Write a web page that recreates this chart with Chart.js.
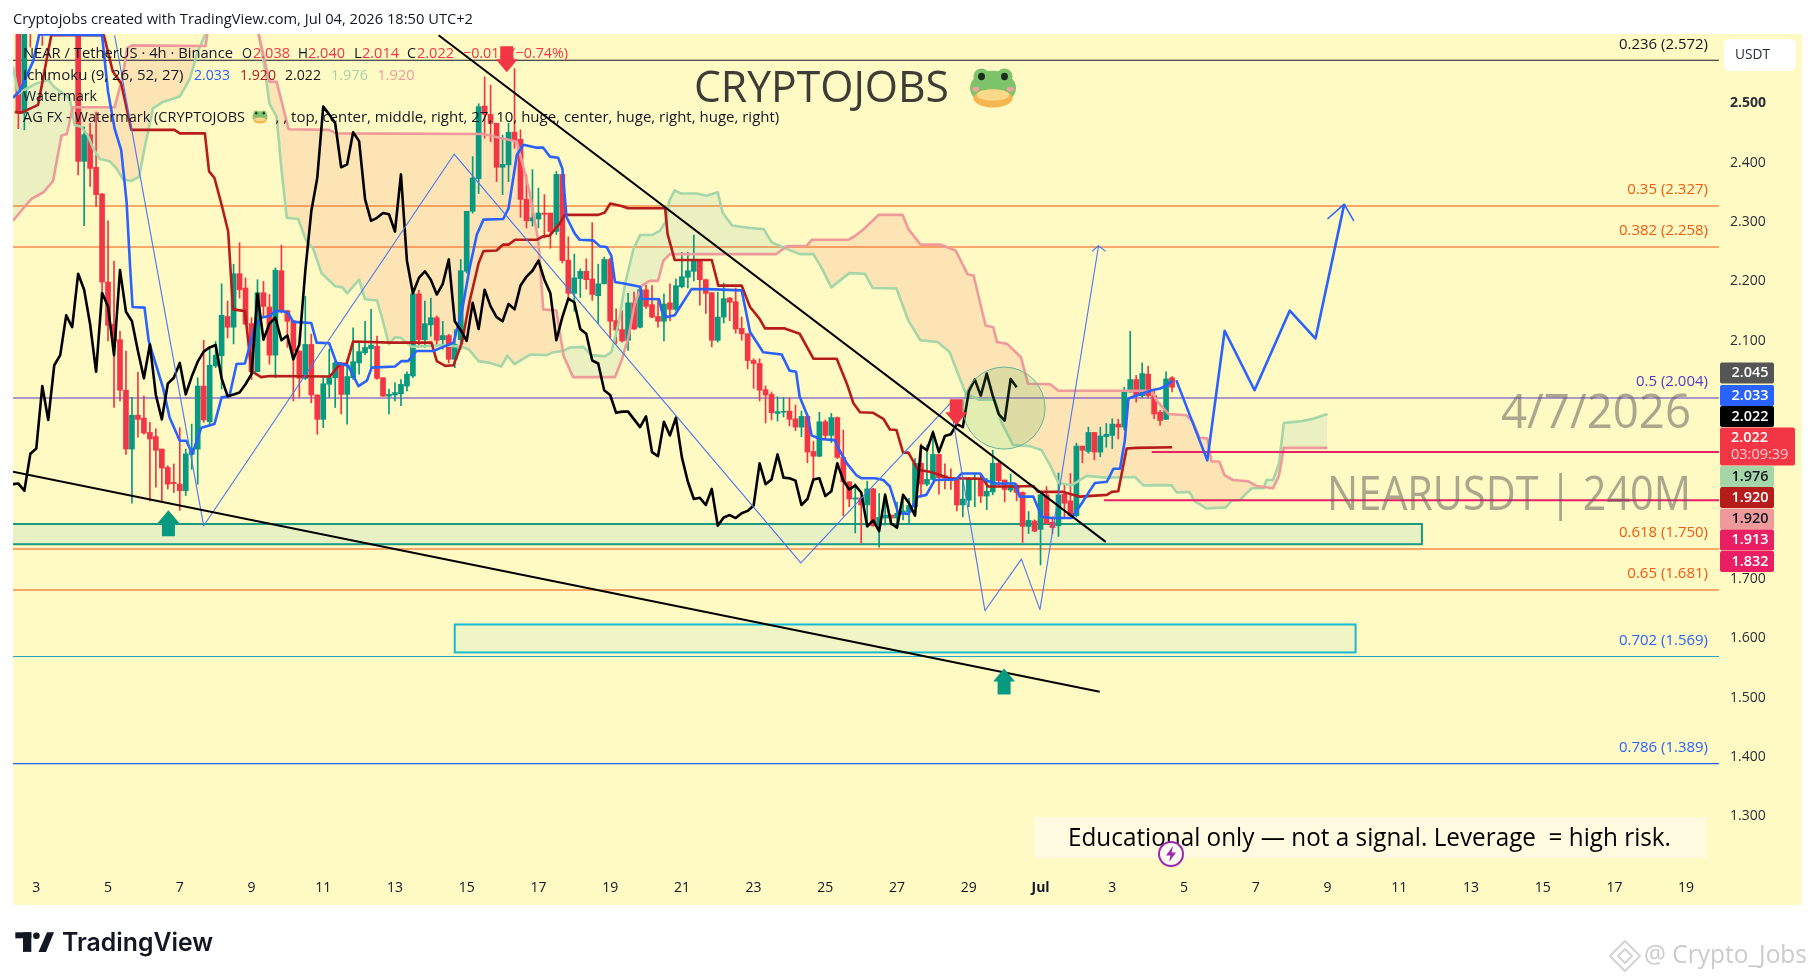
<!DOCTYPE html>
<html><head><meta charset="utf-8">
<style>html,body{margin:0;padding:0;background:#fff}canvas{display:block}</style>
<script src="https://cdn.jsdelivr.net/npm/chart.js@4/dist/chart.umd.min.js"></script>
</head><body><canvas id="c" width="1814" height="980"></canvas>
<script>
const UI='"Open Sans", Lato, sans-serif';
const firstBar=-3;
const opens=[2.72,2.483,2.68,null,2.69,null,null,null,null,null,
2.66,2.402,2.447,2.392,2.347,2.199,2.128,2.102,2.017,1.918,
1.975,1.970,1.946,1.939,1.918,1.887,1.862,1.859,1.848,1.909,
1.918,2.024,1.964,2.058,2.075,2.141,2.123,2.213,2.189,2.129,
2.048,2.181,2.157,2.076,2.218,2.151,2.134,2.083,2.037,2.094,
2.009,1.968,2.027,2.038,2.063,2.010,2.038,2.063,2.080,2.087,
2.091,2.038,2.007,2.009,2.011,2.024,2.041,2.179,2.102,2.127,
2.139,2.102,2.109,2.069,2.102,2.217,2.318,2.373,2.495,2.481,
2.466,2.392,2.396,2.451,2.439,2.338,2.302,2.305,2.315,2.315,
2.284,2.380,2.236,2.180,2.205,2.217,2.204,2.176,2.196,2.237,
2.134,2.119,2.101,2.164,2.123,2.186,2.161,2.141,2.133,2.164,
2.153,2.191,2.207,2.217,2.235,2.203,2.181,2.101,2.140,2.172,
2.166,2.121,2.112,2.067,2.062,2.018,2.010,1.978,1.980,1.982,
1.969,1.955,1.973,1.914,1.906,1.964,1.941,1.971,1.904,1.863,
1.834,1.836,1.824,1.851,1.790,1.802,1.807,1.802,1.809,1.812,
1.821,1.894,1.859,1.867,1.909,1.873,1.870,1.866,1.824,1.832,
1.867,1.867,1.839,1.846,1.894,1.866,1.849,1.857,1.845,1.788,
1.797,1.783,1.841,1.795,1.789,1.842,1.831,1.806,1.923,1.914,
1.946,1.913,1.939,1.941,1.960,1.955,2.014,2.035,2.008,2.044,
2.008,1.980,1.968,2.038];
const highs=[2.75,2.74,2.70,null,2.71,null,null,null,null,null,
2.68,2.460,2.466,2.485,2.348,2.302,2.234,2.116,2.083,2.005,
2.047,2.007,1.963,1.952,1.918,1.890,1.893,1.954,1.918,1.960,
2.038,2.101,2.086,2.099,2.196,2.167,2.229,2.265,2.206,2.139,
2.203,2.200,2.178,2.223,2.261,2.151,2.134,2.083,2.175,2.111,
2.009,2.038,2.086,2.066,2.063,2.069,2.122,2.097,2.133,2.153,
2.108,2.038,2.019,2.030,2.035,2.048,2.181,2.185,2.167,2.172,
2.142,2.133,2.111,2.119,2.237,2.318,2.410,2.499,2.544,2.530,
2.466,2.446,2.466,2.558,2.455,2.379,2.388,2.357,2.346,2.315,
2.385,2.380,2.275,2.246,2.221,2.238,2.299,2.229,2.241,2.239,
2.154,2.151,2.180,2.182,2.190,2.194,2.193,2.168,2.179,2.196,
2.204,2.249,2.249,2.278,2.235,2.204,2.181,2.182,2.197,2.173,
2.189,2.140,2.112,2.070,2.070,2.024,2.014,2.006,2.005,2.004,
1.992,1.982,1.973,1.931,1.980,1.967,1.978,1.972,1.950,1.863,
1.860,1.838,1.864,1.852,1.843,1.843,1.807,1.829,1.838,1.835,
1.902,1.927,1.925,1.949,1.909,1.893,1.885,1.869,1.866,1.870,
1.877,1.877,1.869,1.916,1.897,1.866,1.876,1.860,1.846,1.813,
1.799,1.842,1.855,1.804,1.878,1.857,1.877,1.928,1.923,1.955,
1.946,1.955,1.961,1.969,1.968,2.022,2.116,2.042,2.063,2.057,
2.017,1.983,2.048,2.040];
const lows=[2.457,2.455,2.594,null,2.597,null,null,null,null,null,
2.379,2.294,2.360,2.326,2.184,2.100,1.988,1.999,1.909,1.827,
1.938,1.943,1.831,1.854,1.829,1.851,1.845,1.815,1.840,1.884,
1.859,1.963,1.960,2.055,2.019,2.105,2.095,2.172,2.128,2.035,
2.048,2.139,2.061,2.038,2.147,2.089,1.999,2.005,2.035,1.996,
1.943,1.954,2.005,1.988,1.977,1.960,2.035,2.044,2.077,2.052,
2.035,2.007,1.977,1.999,1.991,2.016,2.038,2.091,2.089,2.108,
2.091,2.086,2.063,2.055,2.086,2.214,2.315,2.348,2.441,2.435,
2.368,2.346,2.368,2.424,2.308,2.290,2.293,2.290,2.273,2.256,
2.279,2.231,2.172,2.150,2.173,2.187,2.168,2.129,2.196,2.104,
2.095,2.098,2.084,2.119,2.122,2.154,2.139,2.123,2.100,2.134,
2.151,2.189,2.189,2.201,2.160,2.146,2.090,2.098,2.130,2.134,
2.113,2.101,2.053,2.020,1.999,1.962,1.967,1.965,1.972,1.957,
1.949,1.939,1.895,1.863,1.905,1.934,1.929,1.902,1.806,1.821,
1.777,1.760,1.793,1.788,1.753,1.790,1.790,1.790,1.799,1.794,
1.820,1.837,1.856,1.866,1.842,1.851,1.850,1.814,1.804,1.821,
1.821,1.828,1.816,1.841,1.855,1.829,1.846,1.831,1.761,1.776,
1.779,1.723,1.792,1.776,1.771,1.804,1.804,1.804,1.895,1.911,
1.900,1.905,1.921,1.919,1.935,1.950,2.014,1.997,2.004,2.004,
1.969,1.958,1.968,2.014];
const closes=[2.483,2.72,2.65,null,2.66,null,null,null,null,null,
2.402,2.447,2.390,2.346,2.199,2.126,2.100,2.017,1.918,1.975,
1.968,1.945,1.935,1.916,1.886,1.859,1.860,1.848,1.910,1.919,
2.024,1.967,2.059,2.076,2.143,2.123,2.213,2.186,2.128,2.048,
2.181,2.158,2.076,2.219,2.149,2.133,2.083,2.037,2.094,2.009,
1.968,2.028,2.038,2.063,2.010,2.040,2.065,2.082,2.089,2.093,
2.037,2.007,2.010,2.013,2.027,2.044,2.179,2.102,2.129,2.139,
2.101,2.109,2.069,2.094,2.218,2.318,2.374,2.494,2.481,2.466,
2.392,2.397,2.451,2.436,2.338,2.302,2.307,2.315,2.313,2.284,
2.380,2.235,2.180,2.206,2.217,2.203,2.178,2.196,2.237,2.133,
2.118,2.100,2.164,2.120,2.186,2.158,2.140,2.133,2.162,2.153,
2.193,2.208,2.218,2.235,2.203,2.180,2.101,2.140,2.171,2.165,
2.120,2.112,2.067,2.062,2.017,2.009,1.979,1.981,1.981,1.968,
1.955,1.973,1.913,1.906,1.964,1.941,1.971,1.904,1.863,1.834,
1.836,1.824,1.851,1.789,1.803,1.807,1.802,1.810,1.814,1.823,
1.894,1.859,1.867,1.909,1.870,1.869,1.865,1.824,1.834,1.867,
1.869,1.839,1.847,1.894,1.865,1.850,1.857,1.845,1.788,1.798,
1.780,1.841,1.793,1.786,1.841,1.827,1.806,1.923,1.916,1.946,
1.913,1.940,1.943,1.960,1.955,2.015,2.035,2.008,2.045,2.008,
1.977,1.966,2.036,2.022];
// Ichimoku lagging span: one value per bar from bar -4 to bar 164
const laggingStart=-4;
const lagging=[1.859,1.860,1.848,1.910,1.919,
2.024,1.967,2.059,2.076,2.143,2.123,2.213,2.186,2.128,2.048,
2.181,2.158,2.076,2.219,2.149,2.133,2.083,2.037,2.094,2.009,
1.968,2.028,2.038,2.063,2.010,2.040,2.065,2.082,2.089,2.093,
2.037,2.007,2.010,2.013,2.027,2.044,2.179,2.102,2.129,2.139,
2.101,2.109,2.069,2.094,2.218,2.318,2.374,2.494,2.481,2.466,
2.392,2.397,2.451,2.436,2.338,2.302,2.307,2.315,2.313,2.284,
2.380,2.235,2.180,2.206,2.217,2.203,2.178,2.196,2.237,2.133,
2.118,2.100,2.164,2.120,2.186,2.158,2.140,2.133,2.162,2.153,
2.193,2.208,2.218,2.235,2.203,2.180,2.101,2.140,2.171,2.165,
2.120,2.112,2.067,2.062,2.017,2.009,1.979,1.981,1.981,1.968,
1.955,1.973,1.913,1.906,1.964,1.941,1.971,1.904,1.863,1.834,
1.836,1.824,1.851,1.789,1.803,1.807,1.802,1.810,1.814,1.823,
1.894,1.859,1.867,1.909,1.870,1.869,1.865,1.824,1.834,1.867,
1.869,1.839,1.847,1.894,1.865,1.850,1.857,1.845,1.788,1.798,
1.780,1.841,1.793,1.786,1.841,1.827,1.806,1.923,1.916,1.946,
1.913,1.940,1.943,1.960,1.955,2.015,2.035,2.008,2.045,2.008,
1.977,1.966,2.036,2.022];
const tenkanX=[-3.9,-2.8,-0.5,0.5,11,12,13.1,14.2,15.1,15.7,16.1,18.1,18.8,21.2,22.3,24,25.1,26.1,27.6,29.8,31,32.3,33.5,34.9,36.5,37.6,39,39.9,41.3,42.1,43,46,46.9,49,50.2,52.2,53.9,55.3,56.1,60,61.1,62.2,63.6,66.4,69.8,71.2,72.5,73.7,74.8,78.1,79,80.4,81.5,83.7,84.8,85.9,87.3,88,88.7,90.1,90.9,93.2,94.3,95.4,96.2,96.8,98.5,101,101.3,104.2,104.6,105.4,106.8,109.6,112.4,118,119.4,121.6,124.7,126,127.1,127.7,129.1,129.7,131.1,133.6,134.2,135.6,137.2,138,140.3,141.7,142.8,144.2,145.9,147.5,148.9,150.3,153.9,154.8,157.9,158.7,160.4,163.7,164.5,166.8,168.2,169.8,173.2,174.9,176.3,177.1,179.1,180.2,181.3,182.1,182.7,183.5,186.6,188,189.1,190];
const tenkanY=[2.509,2.520,2.571,2.616,2.614,2.519,2.457,2.421,2.334,2.223,2.157,2.156,2.100,2.021,1.971,1.932,1.932,1.910,1.954,1.960,2.005,2.007,2.061,2.062,2.122,2.139,2.142,2.150,2.150,2.147,2.132,2.130,2.097,2.096,2.063,2.058,2.024,2.033,2.055,2.057,2.066,2.066,2.083,2.083,2.097,2.150,2.223,2.279,2.304,2.305,2.323,2.413,2.430,2.425,2.425,2.410,2.408,2.390,2.308,2.280,2.270,2.269,2.259,2.258,2.243,2.199,2.196,2.191,2.171,2.170,2.151,2.140,2.143,2.187,2.187,2.185,2.115,2.081,2.077,2.050,2.048,2.006,1.972,1.941,1.935,1.933,1.919,1.894,1.874,1.869,1.869,1.866,1.855,1.810,1.809,1.838,1.841,1.866,1.867,1.877,1.877,1.866,1.860,1.860,1.838,1.838,1.804,1.802,1.802,1.827,1.849,1.861,1.863,1.885,1.885,1.933,2.003,2.006,2.017,2.020,2.025,2.033];
const kijunX=[-3.6,-2.5,0.3,2.5,11.3,12.8,14.2,15.9,23.1,24,28.2,28.9,29.8,31,32.1,32.9,34.9,36,37.6,39,49.1,50.8,51.9,53,59.2,66.1,67,68.4,69.8,71.2,72.5,74,74.8,77,78.1,79,80.1,83.7,84.8,85.9,87.6,88.4,94,95.1,96,97.9,99,105.2,105.6,106.8,113,114.1,118,119.4,121,121.9,125.2,127.7,130,133.9,135.6,136.7,137.8,140,141.7,142.8,143.9,145,145.9,147.5,149.5,152.8,158.4,159.2,163.7,166.8,167.6,171.8,174.6,179.1,179.9,181,182.4,184,190];
const kijunY=[2.485,2.484,2.497,2.614,2.614,2.553,2.533,2.455,2.455,2.449,2.449,2.385,2.374,2.329,2.284,2.153,2.150,2.049,2.039,2.041,2.040,2.061,2.061,2.099,2.097,2.097,2.066,2.058,2.059,2.097,2.167,2.231,2.251,2.252,2.262,2.262,2.270,2.270,2.276,2.277,2.298,2.312,2.312,2.316,2.331,2.327,2.323,2.323,2.280,2.236,2.236,2.193,2.193,2.157,2.137,2.121,2.121,2.112,2.070,2.070,2.028,1.995,1.980,1.979,1.969,1.951,1.950,1.912,1.912,1.883,1.880,1.869,1.868,1.855,1.855,1.856,1.846,1.846,1.838,1.841,1.846,1.847,1.919,1.920,1.921];
const leadAX=[-3.9,-3,-2,0,2,3,4.5,5.6,6.4,7.5,8.6,9.5,10.6,12.3,13.4,14.5,15.9,17.2,18.1,18.7,19.5,21.2,24,25.7,27,28.2,30,36,37.2,38.2,39,40.2,41,41.9,43.8,45.2,46.3,47.7,50,51.2,52,54,55,57,58,59,60,61,62.8,68,71.2,72.3,74,75.9,77.8,78.8,80,82.6,85.4,86.5,88.1,89.3,91.5,92.9,95.1,96.2,97.4,98.5,99.9,101,103,104.3,105.4,105.9,106.8,107.8,110.5,112.1,114,114.8,116.4,119.4,121.7,123,125,127.7,130,131.3,133,136,138.6,139.9,143.9,145.9,147.9,150.8,152.8,155.5,157.8,160.4,161.4,163.4,166.2,168.2,169.6,171,173.2,175.7,179,183.8,185.2,189.9,190.8,192.9,193.8,195.8,199,200,201.3,203.3,205.3,205.8,206.9,207.9,208.7,211.7,213.6,216];
const leadAY=[2.561,2.516,2.522,2.533,2.539,2.527,2.516,2.508,2.463,2.460,2.446,2.424,2.406,2.402,2.390,2.372,2.369,2.376,2.424,2.452,2.491,2.502,2.511,2.541,2.586,2.614,2.70,2.70,2.615,2.559,2.499,2.477,2.390,2.307,2.305,2.267,2.256,2.214,2.192,2.190,2.180,2.203,2.170,2.168,2.133,2.094,2.106,2.105,2.090,2.093,2.090,2.086,2.066,2.063,2.057,2.075,2.061,2.077,2.076,2.081,2.083,2.089,2.090,2.076,2.074,2.081,2.129,2.196,2.255,2.278,2.278,2.285,2.302,2.336,2.353,2.348,2.348,2.344,2.350,2.316,2.294,2.290,2.288,2.266,2.257,2.246,2.246,2.224,2.190,2.214,2.213,2.189,2.188,2.134,2.101,2.098,2.081,2.011,2.001,2.001,1.964,1.925,1.923,1.916,1.891,1.861,1.857,1.873,1.870,1.871,1.857,1.857,1.845,1.846,1.830,1.818,1.820,1.832,1.832,1.852,1.852,1.866,1.866,1.894,1.962,1.965,1.969,1.977];
const leadBX=[-3.9,-2.1,-0.8,1.2,2.8,4.2,5.1,6.1,13.1,14.5,15.2,16,28.3,28.6,30,36,37.2,39,40.2,42.2,49,50.2,74.8,80.4,81.8,82.6,84,84.8,87,88.2,89.8,96.8,97.9,99,100.1,101.3,102.6,104,104.9,106,123.8,125.5,128.9,129.7,135.8,136.9,138.3,140.9,144.9,145.9,147.9,151.2,153.8,155.8,156.8,158.8,160.1,160.7,162.4,164.7,165.9,169.6,171,186.6,187.4,189.4,192.4,193.5,194.6,195.9,196.6,197.9,198.8,200.2,202.7,204.1,206.9,207.9,208.7,216];
const leadBY=[2.302,2.324,2.339,2.350,2.369,2.445,2.448,2.493,2.493,2.547,2.593,2.597,2.596,2.616,2.66,2.66,2.616,2.536,2.536,2.456,2.455,2.449,2.448,2.435,2.379,2.346,2.267,2.153,2.151,2.075,2.039,2.039,2.067,2.104,2.162,2.193,2.201,2.201,2.235,2.246,2.246,2.259,2.260,2.270,2.270,2.276,2.287,2.312,2.312,2.288,2.262,2.262,2.252,2.212,2.210,2.126,2.123,2.098,2.095,2.073,2.028,2.027,2.016,2.016,2.000,1.977,1.975,1.964,1.937,1.936,1.897,1.897,1.874,1.866,1.864,1.856,1.852,1.874,1.920,1.920];
const fibPrices=[2.572,2.327,2.258,2.004,1.750,1.681,1.569,1.389];
const fibRatios=['0.236','0.35','0.382','0.5','0.618','0.65','0.702','0.786'];
const fibColors=['#131722','#F15A0E','#F15A0E','#5C35CC','#F15A0E','#F15A0E','#2BA3C9','#2962FF'];
const fibTextColors=['#131722','#F15A0E','#F15A0E','#5C35CC','#F15A0E','#F15A0E','#2962FF','#2962FF'];
const zigzagX=[13.1,28,69.9,127.9,152.9,158.7,164.8,167.9,177.7];
const zigzagY=[2.614,1.789,2.414,1.7265,1.995,1.646,1.733,1.648,2.260];
const zigzagHeadX=[176.6,177.7,178.9];
const zigzagHeadY=[2.2505,2.260,2.2505];
const projectionX=[190.7,195.9,198.8,203.8,209.7,214,218.8];
const projectionY=[2.034,1.899,2.117,2.017,2.151,2.104,2.330];
const projectionHeadX=[216,218.8,220.4];
const projectionHeadY=[2.305,2.330,2.302];
const upperTrendX=[67.3,178.9], upperTrendY=[2.614,1.762];
const lowerTrendX=[-3.9,177.9], lowerTrendY=[1.880,1.510];
const pinkLevelStart=[186.6,178.6], pinkLevelPrice=[1.913,1.832];
const greenZone={x0:-8,x1:231.8,top:1.792,bottom:1.758};
const cyanZone={x0:70,x1:220.7,top:1.623,bottom:1.576};
const upArrowX=[22.1,161.9], upArrowY=[1.815,1.549];
const downArrowX=[78.7,153.9], downArrowY=[2.552,1.958];
const circleCenter={x:161.9,y:1.987};
const dayLabels=['3','5','7','9','11','13','15','17','19','21','23','25','27','29','Jul','3','5','7','9','11','13','15','17','19'];
const hiddenPriceTicks=['2.600','2.000','1.900','1.800'];
const priceBadges=[['2.045','#555555','#fff',373],['2.033','#2962FF','#fff',395.5],['2.022','#000000','#fff',416.5],['1.976','#A5D6A7','#131722',476.5],['1.920','#B71C1C','#fff',497.5],['1.920','#EF9A9A','#131722',519],['1.913','#E91E63','#fff',540],['1.832','#E91E63','#fff',561.5]];

const RED='#F23645',GREEN='#089981';
const zip=(xs,ys)=>xs.map((x,i)=>({x,y:ys[i]}));
const line=(data,color,width,order,extra)=>Object.assign({type:'line',data,borderColor:color,borderWidth:width,pointRadius:0,tension:0,fill:false,order,borderJoinStyle:'round'},extra||{});
const barIdx=opens.map((_,i)=>firstBar+i);
const valid=barIdx.map((x,i)=>opens[i]!==null?i:-1).filter(i=>i>=0);
const wickData=valid.map(i=>({x:barIdx[i],y:[lows[i],highs[i]]}));
const bodyData=valid.map(i=>({x:barIdx[i],y:[opens[i],closes[i]]}));
const candleColors=valid.map(i=>closes[i]>=opens[i]?GREEN:RED);
const XMIN=-3.9,XMAX=281.5;
const datasets=[];
datasets.push(line(zip(upperTrendX,upperTrendY),'#000',2,1));
datasets.push(line(zip(lowerTrendX,lowerTrendY),'#000',2,1));
datasets.push(line(zip(projectionX,projectionY),'#2962FF',2.6,1));
datasets.push(line(zip(projectionHeadX,projectionHeadY),'#2962FF',1.5,1));
datasets.push(line(zip(zigzagX,zigzagY),'#4A76F0',1.1,1));
datasets.push(line(zip(zigzagHeadX,zigzagHeadY),'#4A76F0',1.1,1));
datasets.push(line(lagging.map((v,i)=>({x:laggingStart+i,y:v})),'#000',2.6,2));
datasets.push(line(zip(tenkanX,tenkanY),'#2962FF',2.6,3));
datasets.push(line(zip(kijunX,kijunY),'#B71C1C',2.6,3));
pinkLevelPrice.forEach((p,i)=>datasets.push(line([{x:pinkLevelStart[i],y:p},{x:XMAX,y:p}],'#E91E63',2,3)));
const leadBIndex=datasets.length;
datasets.push(line(zip(leadBX,leadBY),'#EF9A9A',2.6,4));
datasets.push(line(zip(leadAX,leadAY),'#A5D6A7',2.6,4,{fill:{target:leadBIndex,above:'rgba(175,216,180,0.25)',below:'rgba(241,153,128,0.22)'}}));
datasets.push({type:'bar',data:bodyData,backgroundColor:candleColors,barThickness:5,minBarLength:1,grouped:false,order:10});
datasets.push({type:'bar',data:wickData,backgroundColor:candleColors,barThickness:1,grouped:false,order:11});
fibPrices.forEach((p,i)=>datasets.push(line([{x:XMIN,y:p},{x:XMAX,y:p}],fibColors[i],1.1,20)));

function text(ctx,s,x,y,font,color,align,maxW){
  ctx.save();ctx.font=font;ctx.fillStyle=color;ctx.textAlign=align||'left';ctx.textBaseline='middle';
  if(maxW)ctx.fillText(s,x,y,maxW);else ctx.fillText(s,x,y);ctx.restore();
}
function frog(ctx,cx,cy,k){
  ctx.save();ctx.translate(cx,cy);ctx.scale(k,k);
  const e=(x,y,rx,ry,c)=>{ctx.fillStyle=c;ctx.beginPath();ctx.ellipse(x,y,rx,ry,0,0,Math.PI*2);ctx.fill();};
  e(0,0,20,15,'#7CC36A');e(-10,-10,7,7,'#7CC36A');e(10,-10,7,7,'#7CC36A');
  e(-10,-10,3,3.2,'#1d2b1d');e(10,-10,3,3.2,'#1d2b1d');
  e(0,9,17,8,'#F5B650');e(0,6,14,5,'#FBD98A');
  e(-15,1,3,2,'#F2A0A0');e(15,1,3,2,'#F2A0A0');
  ctx.restore();
}
function arrow(ctx,x,tip,dir,color){
  const head=13,len=26,hw=11,sw=6.5;
  ctx.fillStyle=color;ctx.beginPath();
  ctx.moveTo(x,tip);ctx.lineTo(x+hw,tip-dir*head);ctx.lineTo(x+sw,tip-dir*head);ctx.lineTo(x+sw,tip-dir*len);
  ctx.lineTo(x-sw,tip-dir*len);ctx.lineTo(x-sw,tip-dir*head);ctx.lineTo(x-hw,tip-dir*head);ctx.closePath();ctx.fill();
}
const decor={id:'decor',
 beforeDraw(c){const g=c.ctx;g.save();g.fillStyle='#fff';g.fillRect(0,0,1814,980);g.fillStyle='#FFF9C4';g.fillRect(13,34,1789,871);g.restore();
   text(g,'Cryptojobs created with TradingView.com, Jul 04, 2026 18:50 UTC+2',13,20,'15px '+UI,'#131722','left',460);},
 beforeDatasetsDraw(c){const g=c.ctx,X=c.scales.x,Y=c.scales.y,A=c.chartArea;g.save();
   g.beginPath();g.rect(A.left,A.top,A.right-A.left,A.bottom-A.top);g.clip();
   [[greenZone,'#1B9A80','rgba(160,220,190,0.25)'],[cyanZone,'#17BBD0','rgba(190,235,200,0.25)']].forEach(([z,s,f])=>{
     const x0=X.getPixelForValue(z.x0),x1=X.getPixelForValue(z.x1),y0=Y.getPixelForValue(z.top),y1=Y.getPixelForValue(z.bottom);
     g.fillStyle=f;g.fillRect(x0,y0,x1-x0,y1-y0);g.strokeStyle=s;g.lineWidth=2;g.strokeRect(x0,y0,x1-x0,y1-y0);});
   g.restore();},
 afterDatasetsDraw(c){const g=c.ctx,X=c.scales.x,Y=c.scales.y;g.save();
   const cx=X.getPixelForValue(circleCenter.x),cy=Y.getPixelForValue(circleCenter.y);
   g.beginPath();g.arc(cx,cy,41,0,Math.PI*2);g.fillStyle='rgba(76,175,80,0.16)';g.fill();g.strokeStyle='#63B795';g.lineWidth=1;g.stroke();
   upArrowX.forEach((v,i)=>arrow(g,X.getPixelForValue(v),Y.getPixelForValue(upArrowY[i]),-1,GREEN));
   downArrowX.forEach((v,i)=>arrow(g,X.getPixelForValue(v),Y.getPixelForValue(downArrowY[i]),1,RED));
   fibPrices.forEach((p,i)=>{const s=fibRatios[i]+' ('+p.toFixed(3)+')';text(g,s,1708,Y.getPixelForValue(p)-16,'15px '+UI,fibTextColors[i],'right',s.length*6.85);});
   text(g,'4/7/2026',1691,415,'47px '+UI,'rgba(85,85,85,0.5)','right',190);
   text(g,'NEARUSDT | 240M',1691,497,'47px '+UI,'rgba(85,85,85,0.5)','right',364);
   text(g,'CRYPTOJOBS',694,89,'44px '+UI,'#3d3d37','left',255);
   frog(g,993,88,1.15);
   const L=(s,x,y,col,w)=>text(g,s,x,y,'15px '+UI,col,'left',w);
   L('NEAR / TetherUS · 4h · Binance',23,54,'#131722',210);
   L('O',242,54,'#131722',10);L('2.038',253,54,RED,37);L('H',298,54,'#131722',10);L('2.040',308,54,RED,37);
   L('L',354,54,'#131722',8);L('2.014',362,54,RED,37);L('C',407,54,'#131722',9);L('2.022',417,54,RED,37);L('−0.015 (−0.74%)',463,54,RED,105);
   L('Ichimoku (9, 26, 52, 27)',23,76,'#131722',161);L('2.033',194,76,'#2962FF',36);L('1.920',240,76,'#B71C1C',36);L('2.022',285,76,'#131722',36);L('1.976',331,76,'#A5D6A7',37);L('1.920',377.5,76,'#EF9A9A',37);
   L('Watermark',23,97,'#131722',74);
   L('AG FX - Watermark (CRYPTOJOBS',23,118,'#131722',222);frog(g,260,117,0.38);
   L(', , top, center, middle, right, 27, 10, huge, center, huge, right, huge, right)',275.5,118,'#131722',511);
   g.fillStyle='#FFFAE0';g.fillRect(1034,817,673,41);
   text(g,'Educational only — not a signal. Leverage  = high risk.',1068,839,'26px '+UI,'#000','left',603);
   g.beginPath();g.arc(1171,854,12,0,Math.PI*2);g.fillStyle='#FFFDF0';g.fill();g.strokeStyle='#9C27B0';g.lineWidth=2;g.stroke();
   g.fillStyle='#9C27B0';g.beginPath();g.moveTo(1173,846);g.lineTo(1166,855.5);g.lineTo(1170.5,855.5);g.lineTo(1169,862);g.lineTo(1176,852.5);g.lineTo(1171.5,852.5);g.closePath();g.fill();
   g.restore();},
 afterDraw(c){const g=c.ctx;g.save();
   g.fillStyle='#fff';g.beginPath();g.roundRect(1724,39,72,32,6);g.fill();
   text(g,'USDT',1735,55,'15px '+UI,'#2a2e39','left',35);
   priceBadges.forEach(([t,bg,fg,y])=>{g.fillStyle=bg;g.beginPath();g.roundRect(1720,y-10.5,54,21,2);g.fill();text(g,t,1750,y,'600 14.5px '+UI,fg,'center',37);});
   g.fillStyle=RED;g.beginPath();g.roundRect(1720,427.5,75,38,2);g.fill();
   text(g,'2.022',1731,438,'600 14.5px '+UI,'#fff','left',37);text(g,'03:09:39',1731,455,'14.5px '+UI,'rgba(255,255,255,.75)','left',59);
   g.fillStyle='#131722';g.fillRect(15.3,932.3,16,6);g.fillRect(23,932.3,8.3,19.6);
   g.beginPath();g.arc(36.4,935.7,3.3,0,Math.PI*2);g.fill();
   g.beginPath();g.moveTo(38.5,951.9);g.lineTo(47,932.3);g.lineTo(54,932.3);g.lineTo(46,951.9);g.closePath();g.fill();
   text(g,'TradingView',62,943,'600 25px Inter, '+UI,'#131722','left',151);
   text(g,'@ Crypto_Jobs',1644,956,'25px '+UI,'#CBCBCB','left',163);
   g.strokeStyle='#D4D4D4';g.lineWidth=2;g.beginPath();g.moveTo(1625,941);g.lineTo(1640,956);g.lineTo(1625,971);g.lineTo(1610,956);g.closePath();g.stroke();
   g.beginPath();g.moveTo(1625,949);g.lineTo(1632,956);g.lineTo(1625,963);g.lineTo(1618,956);g.closePath();g.stroke();
   g.restore();}
};
const tickVal=ctx=>(ctx&&ctx.tick)?ctx.tick.value:null;
new Chart(document.getElementById('c'),{type:'bar',data:{datasets},plugins:[decor],options:{
 responsive:false,animation:false,devicePixelRatio:1,events:[],
 layout:{padding:{left:13,top:34,right:12,bottom:75}},
 plugins:{legend:{display:false},tooltip:{enabled:false},filler:{drawTime:'beforeDatasetsDraw'}},
 scales:{
  x:{type:'linear',offset:false,min:XMIN,max:XMAX,grid:{display:false,drawTicks:false},border:{display:false},
     afterFit(s){s.height=35;},
     ticks:{stepSize:12,autoSkip:false,maxRotation:0,includeBounds:false,padding:10,color:'#131722',
       font:ctx=>({family:UI,size:14,weight:tickVal(ctx)===168?'bold':'normal'}),
       callback:v=>dayLabels[Math.round(v/12)]||''}},
  y:{type:'linear',position:'right',min:1.2100,max:2.6162,grid:{display:false,drawTicks:false},border:{display:false},
     afterFit(s){s.width=83;},
     ticks:{stepSize:0.1,autoSkip:false,includeBounds:false,padding:11,color:'#2a2e39',
       font:ctx=>({family:UI,size:14,weight:(tickVal(ctx)!==null&&Math.abs(tickVal(ctx)-2.5)<1e-6)?'bold':'normal'}),
       callback:v=>{const s=v.toFixed(3);return hiddenPriceTicks.includes(s)?'':s;}}}
 }}});
</script></body></html>
